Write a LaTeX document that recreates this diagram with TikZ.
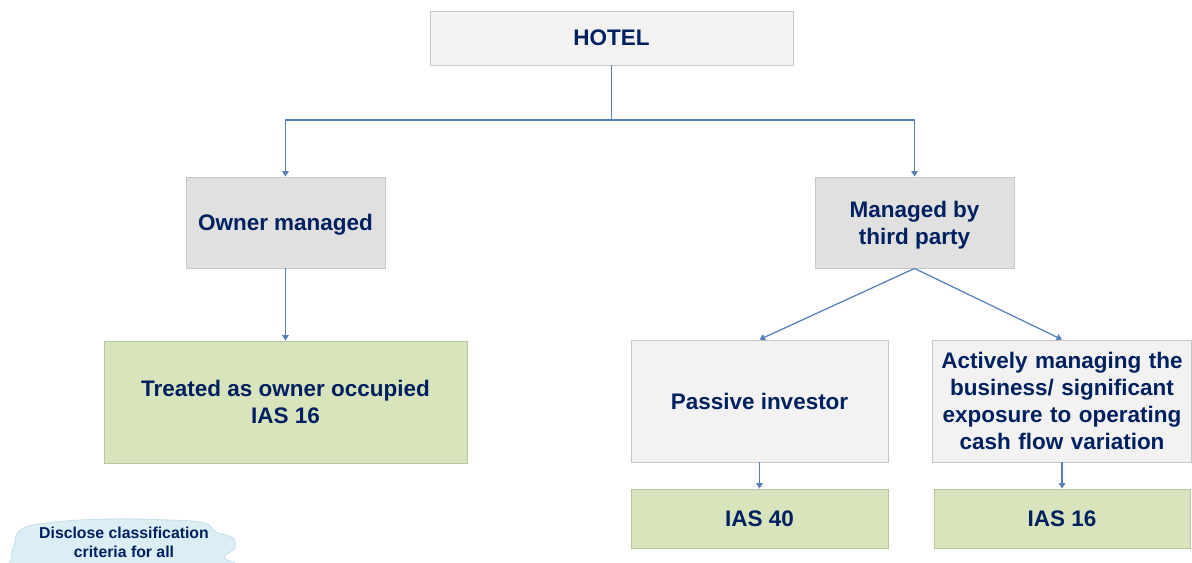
\documentclass[tikz,border=0pt]{standalone}
\usepackage{fontspec}
\setmainfont{Liberation Sans}
\usetikzlibrary{arrows.meta,positioning}
\definecolor{navytext}{RGB}{0,32,96}
\definecolor{greybox}{RGB}{242,242,242}
\definecolor{greydark}{RGB}{224,224,224}
\definecolor{greyline}{RGB}{200,200,200}
\definecolor{greenbox}{RGB}{216,228,188}
\definecolor{greenline}{RGB}{184,198,164}
\definecolor{linkblue}{RGB}{84,128,185}
\definecolor{cloudblue}{RGB}{218,238,243}
\definecolor{cloudline}{RGB}{200,222,232}
\tikzset{
      catbox/.style={
        draw=greyline,
        line width=0.5pt,
        fill=greybox,
        align=center,
        inner sep=4pt,
        text depth=0pt,
        text=navytext,
        font=\bfseries\fontsize{12.8}{15.5}\selectfont
      },
      resultbox/.style={
        catbox,
        draw=greenline,
        fill=greenbox
      },
      link/.style={
        draw=linkblue,
        line width=0.7pt,
        -{Triangle[length=0.11cm,width=0.13cm]}
      }
    }

\begin{document}
\begin{tikzpicture}[x=0.02cm,y=-0.02cm]
    \useasboundingbox (0,0) rectangle (1192,562);
    \node[catbox, minimum width=7.26cm, minimum height=1.08cm] (hotel) at (611.5,38) {HOTEL};
    \node[catbox, fill=greydark, minimum width=3.98cm, minimum height=1.82cm] (owner) at (285.5,222.5) {Owner managed};
    \node[catbox, fill=greydark, minimum width=3.98cm, minimum height=1.82cm] (third) at (914.5,222.5) {Managed by\\third party};
    \node[resultbox, minimum width=7.26cm, minimum height=2.44cm] (occupied) at (285.5,402) {Treated as owner occupied\\IAS 16};
    \node[catbox, minimum width=5.14cm, minimum height=2.44cm] (passive) at (759.5,401) {Passive investor};
    \node[catbox, text depth=, minimum width=5.12cm, minimum height=2.44cm, text width=4.9cm] (active) at (1062,401) {Actively managing the business/ significant exposure to operating cash flow variation};
    \node[resultbox, minimum width=5.14cm, minimum height=1.18cm] (ias40) at (759.5,518.5) {IAS 40};
    \node[resultbox, minimum width=5.12cm, minimum height=1.18cm] (ias16) at (1062,518.5) {IAS 16};
    \coordinate (split) at (611.5,120);
    \draw[link, -] (hotel.south) -- (split);
    \draw[link] (split) -| (owner.north);
    \draw[link] (split) -| (third.north);
    \draw[link] (owner.south) -- (occupied.north);
    \draw[link] (third.south) -- (passive.north);
    \draw[link] (third.south) -- (active.north);
    \draw[link] (passive.south) -- (ias40.north);
    \draw[link] (active.south) -- (ias16.north);
    % note cloud, cut off at the lower edge
    \begin{scope}
      \clip (0,0) rectangle (1192,562);
      \draw[cloudline, fill=cloudblue, line width=0.5pt]
        plot[smooth cycle, tension=0.7] coordinates {(14,546) (22,529) (55,522) (110,519) (170,520) (204,523) (216,532) (233,538) (234,549) (224,557) (230,568) (120,572) (20,569) (12,557)};
    \end{scope}
    \node[align=center, text=navytext, font=\bfseries\fontsize{9}{10.8}\selectfont] (note) at (124,542) {Disclose classification\\criteria for all};
\end{tikzpicture}
\end{document}
